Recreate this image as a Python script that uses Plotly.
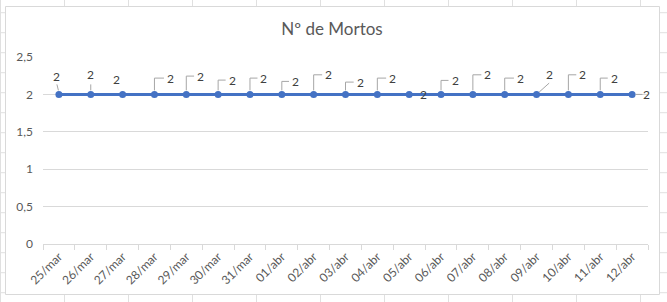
import plotly.graph_objects as go

# ---- data ----
categories = ["25/mar", "26/mar", "27/mar", "28/mar", "29/mar", "30/mar", "31/mar",
              "01/abr", "02/abr", "03/abr", "04/abr", "05/abr", "06/abr", "07/abr",
              "08/abr", "09/abr", "10/abr", "11/abr", "12/abr"]
mortos = [2, 2, 2, 2, 2, 2, 2, 2, 2, 2, 2, 2, 2, 2, 2, 2, 2, 2, 2]
title_text = "Nº de Mortos"
y_tick_vals = [0, 0.5, 1, 1.5, 2, 2.5]

# label offsets (pixels, y up) and leader style per point
label_dx = [-2.3, -0.7, -6.3, 16, 14.3, 14, 14, 13.7, 15, 14.7, 15.3, 14, 14, 15, 15.7, 12.6, 14.4, 14, 14.4]
label_dy = [18.3, 20, 15, 16.3, 18.3, 14.3, 16.3, 13, 19.6, 12.3, 16.3, 0, 14, 19.6, 16.3, 19.6, 19.6, 16.3, 0]
leader = ["v0", "v1", "none", "L", "L", "L", "L", "L", "L", "L", "L", "none", "L", "L", "L", "diag", "L", "L", "h"]

W, H = 667, 302
ML, MR, MT, MB = 43, 19, 57, 58
PW, PH = W - ML - MR, H - MT - MB


def px(X):
    return (X - ML) / PW


def py(Y):
    return (H - MB - Y) / PH


FONT = "Lato, Calibri, Carlito, 'Liberation Sans', sans-serif"
GRID = "#D9D9D9"
SHEET = "#E0E0E0"
LEADER = "#A6A6A6"

fig = go.Figure()
fig.add_trace(go.Scatter(
    x=categories, y=mortos, mode="lines+markers",
    line=dict(color="#4472C4", width=3),
    marker=dict(color="#4472C4", size=7),
    hoverinfo="x+y", showlegend=False,
))

shapes = []
# spreadsheet background gridlines
for X in range(0, W + 1, 64):
    shapes.append(dict(type="line", xref="paper", yref="paper", x0=px(X + 0.5), x1=px(X + 0.5),
                       y0=py(0), y1=py(H), line=dict(color=SHEET, width=1), layer="below"))
Y = 12.7
while Y < H:
    shapes.append(dict(type="line", xref="paper", yref="paper", x0=px(0), x1=px(W),
                       y0=py(Y), y1=py(Y), line=dict(color=SHEET, width=1), layer="below"))
    Y += 20
# chart area
shapes.append(dict(type="rect", xref="paper", yref="paper", x0=px(5.5), x1=px(659.5),
                   y0=py(294.5), y1=py(6.5), fillcolor="white", line=dict(color=GRID, width=1),
                   layer="below"))

annotations = []
for i, (c, v) in enumerate(zip(categories, mortos)):
    dx, dy, kind = label_dx[i], label_dy[i], leader[i]
    annotations.append(dict(x=c, y=v, xref="x", yref="y", text=str(v), showarrow=False,
                            xshift=dx, yshift=dy, font=dict(family=FONT, size=12, color="#404040")))
    common = dict(xref="x", yref="y", xsizemode="pixel", ysizemode="pixel",
                  xanchor=c, yanchor=v, line=dict(color=LEADER, width=1), layer="above")
    if kind == "v0":
        shapes.append(dict(type="path", path="M -0.5,4 L -2,10", **common))
    elif kind == "v1":
        shapes.append(dict(type="path", path="M 0,4 L 0,10", **common))
    elif kind == "L":
        shapes.append(dict(type="path", path=f"M 0,4 L 0,{dy:.1f} L {dx - 6.5:.1f},{dy:.1f}", **common))
    elif kind == "diag":
        shapes.append(dict(type="path", path=f"M 2.6,2.3 L {dx:.1f},{dy - 8.3:.1f}", **common))
    elif kind == "h":
        shapes.append(dict(type="path", path="M 3.7,0 L 10.4,0", **common))

fig.update_layout(
    width=W, height=H,
    margin=dict(l=ML, r=MR, t=MT, b=MB, pad=0),
    paper_bgcolor="white", plot_bgcolor="rgba(0,0,0,0)",
    separators=", ",
    font=dict(family=FONT, color="#595959"),
    title=dict(text=title_text, x=332 / W, xanchor="center", y=1 - 29 / H, yanchor="middle",
               font=dict(family=FONT, size=17, color="#595959")),
    xaxis=dict(type="category", range=[-0.5, len(categories) - 0.5], showgrid=False,
               showline=True, linecolor=GRID, linewidth=1, ticks="outside", ticklen=5,
               tickcolor=GRID, tickson="boundaries", tickangle=-45,
               tickfont=dict(family=FONT, size=12, color="#595959")),
    yaxis=dict(range=[0, 2.5], tickvals=y_tick_vals, showgrid=True, gridcolor=GRID, gridwidth=1,
               zeroline=False, showline=False, ticks="", ticklabelstandoff=9,
               tickfont=dict(family=FONT, size=12, color="#595959")),
    shapes=shapes, annotations=annotations,
)

fig.write_html("out.html")
